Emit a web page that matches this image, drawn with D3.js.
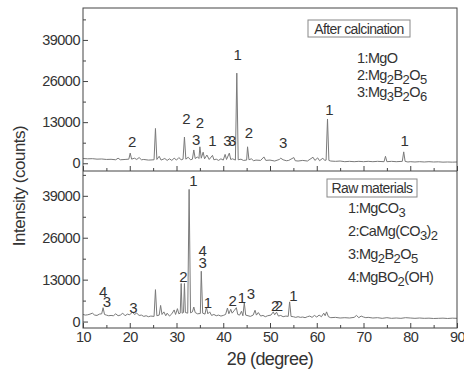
<!DOCTYPE html>
<html>
<head>
<meta charset="utf-8">
<script src="https://cdn.jsdelivr.net/npm/d3@7"></script>
<style>
  body { margin: 0; background: #fff; }
  svg text { font-family: "Liberation Sans", Arial, sans-serif; fill: #333; }
</style>
</head>
<body>
<div id="chart"></div>
<script>
// x axis ticks
var xTicks = [10, 20, 30, 40, 50, 60, 70, 80, 90];
var yTicks = [0, 13000, 26000, 39000];

// after calcination pattern [2theta, counts]
var calcinedPattern = [
  [10, 1500], [11, 1400], [12, 1450], [13, 1300], [14, 1350], [15, 1200], [16, 1250], [17, 1100],
  [17.5, 1600], [18, 1100], [19, 1200], [19.8, 1300], [20.1, 3200], [20.4, 1300], [21, 1600],
  [21.5, 1200], [22, 1800], [22.5, 1100], [23, 1200], [24, 1000], [25.2, 1100], [25.5, 11000],
  [25.8, 1200], [26.3, 2200], [26.7, 1000], [27.5, 1500], [28, 900], [28.5, 1400], [29, 900],
  [29.5, 1600], [30, 1000], [30.5, 1800], [31, 1100], [31.4, 1300], [31.7, 8300], [32.0, 1300],
  [32.5, 1900], [33, 1100], [33.4, 1300], [33.7, 4200], [34.0, 1500], [34.5, 2000], [34.8, 1500],
  [35.0, 5200], [35.3, 1600], [35.7, 3500], [36.0, 1400], [36.5, 2600], [37, 1200], [37.7, 2500],
  [38, 1100], [38.5, 1300], [39, 900], [39.5, 1400], [40, 1000], [40.4, 2800], [40.7, 1200],
  [41.3, 3200], [41.6, 1200], [42, 1400], [42.6, 1000], [42.9, 28500], [43.2, 1100], [43.8, 1300],
  [44.3, 900], [45.0, 1000], [45.2, 5200], [45.5, 1100], [46, 1400], [46.5, 800], [47, 1000],
  [48, 900], [48.7, 2000], [49.1, 900], [50, 1000], [51, 700], [52, 1200], [52.3, 1600],
  [52.8, 1100], [53.5, 800], [54, 900], [55.1, 1800], [55.4, 800], [56, 700], [57, 900], [58, 700],
  [59.2, 1900], [59.6, 900], [60.2, 1700], [60.6, 800], [61.3, 1600], [61.7, 900], [62.0, 1000],
  [62.3, 14000], [62.6, 900], [63, 700], [64, 600], [65, 700], [66, 500], [67, 600], [68, 500],
  [69, 600], [70, 500], [71, 600], [72, 500], [73, 600], [74.4, 500], [74.7, 2200], [75.0, 500],
  [76, 600], [77, 500], [78.3, 600], [78.6, 3600], [78.9, 600], [79.5, 400], [80, 500], [81, 400],
  [82, 500], [83, 400], [84, 500], [85, 400], [86, 450], [87, 350], [88, 400], [89, 350], [90, 400]
];

// raw materials pattern [2theta, counts]
var rawPattern = [
  [10, 2200], [10.5, 2000], [11, 2100], [11.5, 2300], [12, 2600], [12.5, 2000], [13, 1900],
  [13.5, 2300], [14.0, 2400], [14.3, 4300], [14.6, 2200], [15, 2000], [15.5, 1800], [16, 1900],
  [16.5, 1800], [17, 2400], [17.5, 1800], [18, 2000], [18.5, 2600], [19, 1800], [19.5, 2300],
  [20, 2100], [20.6, 3000], [21, 2200], [21.5, 2600], [22, 1900], [22.5, 2000], [23, 1600],
  [23.5, 1800], [24, 1500], [24.5, 1700], [25.2, 1600], [25.5, 9900], [25.8, 1800], [26.3, 2000],
  [26.6, 5000], [26.9, 2200], [27.3, 3000], [27.7, 1800], [28, 2600], [28.5, 1700], [29, 2400],
  [29.5, 3600], [29.8, 2200], [30.2, 4000], [30.5, 2400], [30.8, 2600], [31.0, 11800], [31.2, 2600],
  [31.5, 2800], [31.7, 11800], [31.9, 2800], [32.4, 2600], [32.7, 41000], [33.0, 2700], [33.4, 3000],
  [33.7, 4500], [34.0, 2800], [34.5, 2400], [35.1, 2500], [35.3, 15600], [35.6, 2600], [36.1, 2300],
  [36.4, 4500], [36.7, 2400], [37.1, 3000], [37.5, 1900], [38, 2200], [38.5, 1800], [39, 2000],
  [39.5, 1700], [40, 1900], [40.5, 2200], [40.9, 4200], [41.2, 2400], [41.6, 3800], [41.9, 2600],
  [42.4, 3500], [42.8, 4300], [43.1, 2200], [43.5, 2000], [43.9, 3200], [44.2, 1800], [44.5, 5800],
  [44.8, 2000], [45.3, 1800], [45.8, 1600], [46.4, 2000], [46.8, 3500], [47.1, 2000], [47.5, 2800],
  [48, 1700], [48.5, 1900], [49, 1500], [49.5, 1800], [50.2, 2000], [50.7, 3000], [51.0, 2100],
  [51.4, 2900], [51.8, 1700], [52.3, 1900], [52.8, 1500], [53.4, 1700], [53.9, 1600], [54.2, 6100],
  [54.5, 1600], [55, 1500], [55.5, 1300], [56, 1500], [56.5, 1300], [57, 1400], [57.5, 1200],
  [58, 1500], [58.5, 1700], [59, 1300], [59.5, 1900], [60, 1400], [60.5, 2000], [61, 1500],
  [61.5, 2600], [61.8, 1800], [62.1, 3000], [62.5, 1500], [63, 1200], [64, 1300], [65, 1100],
  [66, 1200], [67, 1100], [68, 1300], [68.5, 1900], [69, 1200], [69.5, 1700], [70, 1400],
  [70.5, 1200], [71, 1300], [72, 1100], [73, 1200], [74, 1000], [75, 1200], [76, 1000], [77, 1100],
  [78, 1000], [79, 1200], [80, 1100], [81, 1000], [82, 1100], [83, 1000], [84, 1050], [85, 950],
  [86, 1000], [87, 1050], [88, 950], [89, 1050], [90, 1000]
];

// peak labels [2theta, counts at baseline, label]
var calcinedLabels = [
  [20.5, 5150, "2"], [32.1, 12400, "2"], [35.0, 11200, "2"], [34.2, 5800, "3"], [37.7, 5500, "1"],
  [40.9, 5500, "3"], [41.9, 5500, "3"], [43.1, 32700, "1"], [45.5, 8000, "2"], [52.8, 4800, "3"],
  [62.7, 15300, "1"], [78.8, 5500, "1"]
];
var rawLabels = [
  [14.3, 7700, "4"], [15.1, 4600, "3"], [20.8, 2700, "3"], [31.5, 12400, "2"], [33.6, 41900, "1"],
  [35.6, 20300, "4"], [35.6, 16500, "3"], [36.7, 4300, "1"], [42.0, 4900, "2"], [44.0, 5800, "1"],
  [45.9, 7100, "3"], [51.1, 3400, "2"], [51.9, 3400, "2"], [55.0, 6400, "1"]
];

// legends (underscore = subscript)
var calcinedTitle = "After calcination";
var calcinedPhases = ["1:MgO", "2:Mg_2B_2O_5", "3:Mg_3B_2O_6"];
var rawTitle = "Raw materials";
var rawPhases = ["1:MgCO_3", "2:CaMg(CO_3)_2", "3:Mg_2B_2O_5", "4:MgBO_2(OH)"];

(function(){
  // size setup
  var width = 464, height = 373;
  var mLeft = 83, mRight = 457, mTop = 8, mMid = 171, mBottom = 328;

  var svg = d3.select("#chart").append("svg")
    .attr("width", width)
    .attr("height", height);

  var x = d3.scaleLinear().domain([10, 90]).range([mLeft, mRight]);
  var yTop = d3.scaleLinear().domain([-2450, 49100]).range([mMid, mTop]);
  var yBot = d3.scaleLinear().domain([-2000, 46700]).range([mBottom, mMid]);

  var line = function(yScale){
    return d3.line().x(function(d){ return x(d[0]); }).y(function(d){ return yScale(d[1]); });
  };

  // patterns
  svg.append("path").datum(calcinedPattern)
    .attr("d", line(yTop))
    .attr("fill", "none").attr("stroke", "#7a7a7a").attr("stroke-width", 1);
  svg.append("path").datum(rawPattern)
    .attr("d", line(yBot))
    .attr("fill", "none").attr("stroke", "#7a7a7a").attr("stroke-width", 1);

  // axes helpers
  function styleAxis(g){
    g.select(".domain").remove();
    g.selectAll("line").attr("stroke", "#444");
    g.selectAll("text").attr("fill", "#333")
      .style("font-size", "14.5px").style("letter-spacing", "-0.5px")
      .attr("font-family", null);
  }

  var xMinor = d3.range(15, 90, 10);
  var yMinor = [6500, 19500, 32500, 45500];

  // y axes
  [yTop, yBot].forEach(function(ys){
    var minors = yMinor.filter(function(v){ return v < ys.domain()[1]; });
    svg.append("g").attr("transform", "translate(" + mLeft + ",0)")
      .call(d3.axisLeft(ys).tickValues(yTicks).tickSizeInner(-5).tickSizeOuter(0).tickPadding(3)
        .tickFormat(d3.format("d")))
      .call(styleAxis);
    svg.append("g").attr("transform", "translate(" + mLeft + ",0)")
      .call(d3.axisLeft(ys).tickValues(minors).tickSizeInner(-3).tickSizeOuter(0).tickFormat(""))
      .call(styleAxis);
  });

  // x axes
  [mMid, mBottom].forEach(function(yPos){
    svg.append("g").attr("transform", "translate(0," + yPos + ")")
      .call(d3.axisBottom(x).tickValues(xTicks).tickSizeInner(-5).tickSizeOuter(0).tickPadding(4)
        .tickFormat(yPos === mBottom ? d3.format("d") : ""))
      .call(styleAxis);
    svg.append("g").attr("transform", "translate(0," + yPos + ")")
      .call(d3.axisBottom(x).tickValues(xMinor).tickSizeInner(-3).tickSizeOuter(0).tickFormat(""))
      .call(styleAxis);
  });

  // frame
  svg.append("rect")
    .attr("x", mLeft).attr("y", mTop)
    .attr("width", mRight - mLeft).attr("height", mBottom - mTop)
    .attr("fill", "none").attr("stroke", "#444").attr("stroke-width", 1);
  svg.append("line")
    .attr("x1", mLeft).attr("x2", mRight).attr("y1", mMid).attr("y2", mMid)
    .attr("stroke", "#444").attr("stroke-width", 1);

  // peak labels
  function drawLabels(data, ys){
    svg.append("g").selectAll("text")
      .data(data).enter().append("text")
      .attr("x", function(d){ return x(d[0]); })
      .attr("y", function(d){ return ys(d[1]); })
      .attr("text-anchor", "middle")
      .style("font-size", "15px")
      .text(function(d){ return d[2]; });
  }
  drawLabels(calcinedLabels, yTop);
  drawLabels(rawLabels, yBot);

  // text with subscripts
  function subText(sel, str){
    var parts = str.split("_");
    sel.append("tspan").text(parts[0]);
    parts.slice(1).forEach(function(p){
      sel.append("tspan").attr("dy", 4).style("font-size", "13px").text(p[0]);
      sel.append("tspan").attr("dy", -4).text(p.length > 1 ? p.slice(1) : "");
    });
  }

  function legend(title, box, phases, tx, ty0, step){
    svg.append("rect")
      .attr("x", box[0]).attr("y", box[1]).attr("width", box[2]).attr("height", box[3])
      .attr("fill", "#fff").attr("stroke", "#888");
    svg.append("text")
      .attr("x", box[0] + box[2] / 2).attr("y", box[1] + 14)
      .attr("text-anchor", "middle")
      .style("font-size", "14px").style("letter-spacing", "-0.6px")
      .text(title);
    phases.forEach(function(p, i){
      var t = svg.append("text")
        .attr("x", tx).attr("y", ty0 + i * step)
        .style("font-size", "14.5px").style("letter-spacing", "-0.6px");
      subText(t, p);
    });
  }
  legend(calcinedTitle, [308, 20, 102, 17], calcinedPhases, 357, 63, 17);
  legend(rawTitle, [327, 179, 90, 18], rawPhases, 348, 213, 23);

  // axis titles
  svg.append("text")
    .attr("transform", "translate(25,186) rotate(-90)")
    .attr("text-anchor", "middle")
    .style("font-size", "17px").style("letter-spacing", "-0.5px")
    .text("Intensity (counts)");
  svg.append("text")
    .attr("x", 270).attr("y", 365)
    .attr("text-anchor", "middle")
    .style("font-size", "18px").style("letter-spacing", "-0.6px")
    .text("2θ (degree)");
})();
</script>
</body>
</html>
